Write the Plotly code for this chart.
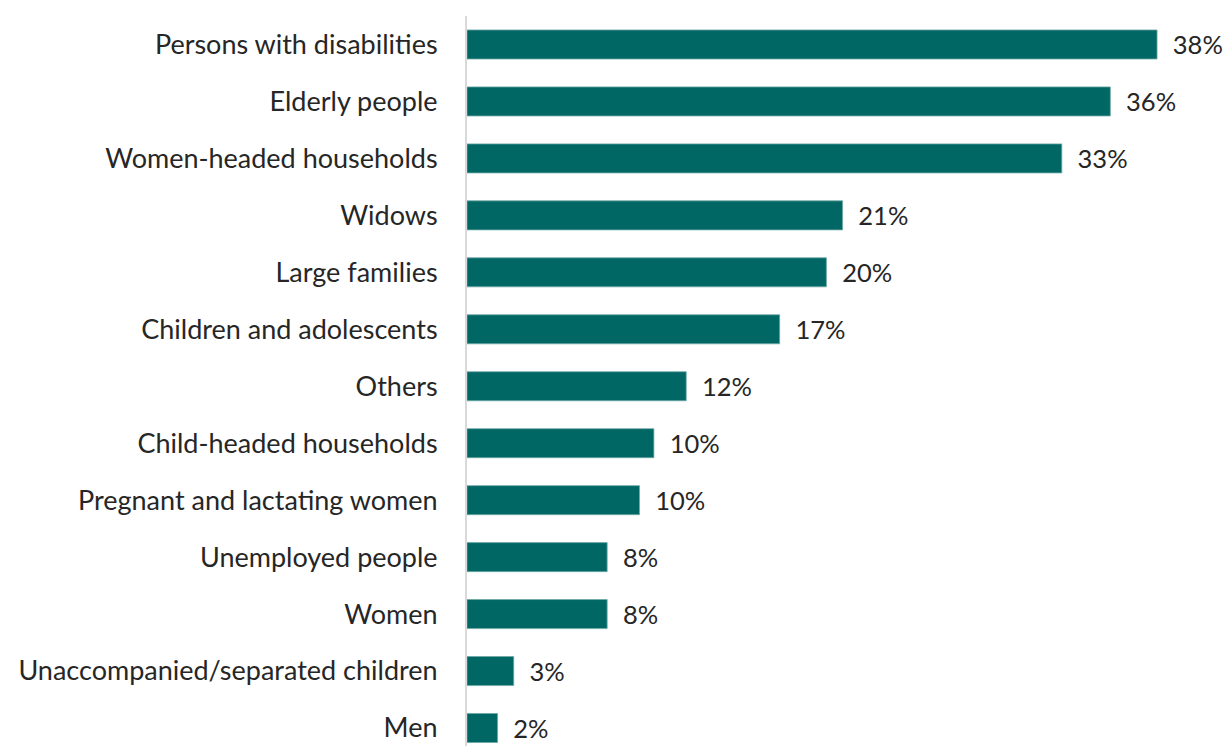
import plotly.graph_objects as go

categories = [
    "Persons with disabilities",
    "Elderly people",
    "Women-headed households",
    "Widows",
    "Large families",
    "Children and adolescents",
    "Others",
    "Child-headed households",
    "Pregnant and lactating women",
    "Unemployed people",
    "Women",
    "Unaccompanied/separated children",
    "Men",
]
values = [38.4, 35.8, 33.1, 20.9, 20.0, 17.4, 12.2, 10.4, 9.6, 7.8, 7.8, 2.6, 1.7]
value_labels = ["38%", "36%", "33%", "21%", "20%", "17%", "12%", "10%", "10%", "8%", "8%", "3%", "2%"]

FONT = "Lato, 'Open Sans', sans-serif"
TEXT_COLOR = "#262626"
FS = 27

fig = go.Figure(
    go.Bar(
        x=values,
        y=categories,
        orientation="h",
        text=["\u2002" + t for t in value_labels],
        textposition="outside",
        constraintext="none",
        cliponaxis=False,
        textfont=dict(family=FONT, size=25.5, color=TEXT_COLOR),
        marker=dict(color="#006764", line=dict(color="#6fa9a6", width=0.8)),
        width=0.51,
        hoverinfo="skip",
    )
)

px_per_unit = 56.96
plot_h = 746 - 16
bottom = -0.5 + plot_h / px_per_unit

fig.update_layout(
    width=1224,
    height=746,
    margin=dict(l=467, r=0, t=16, b=0, pad=0),
    paper_bgcolor="white",
    plot_bgcolor="white",
    showlegend=False,
    font=dict(family=FONT, size=FS, color=TEXT_COLOR),
    xaxis=dict(
        range=[0, (1224 - 467) / 17.97],
        visible=False,
        showgrid=False,
        zeroline=False,
    ),
    yaxis=dict(
        categoryorder="array",
        categoryarray=categories,
        range=[bottom, -0.5],
        showline=True,
        linecolor="#d9d9d9",
        linewidth=2,
        showgrid=False,
        ticks="",
        ticklabelstandoff=22,
        tickfont=dict(family=FONT, size=FS, color=TEXT_COLOR),
    ),
)

fig.write_html("out.html")
